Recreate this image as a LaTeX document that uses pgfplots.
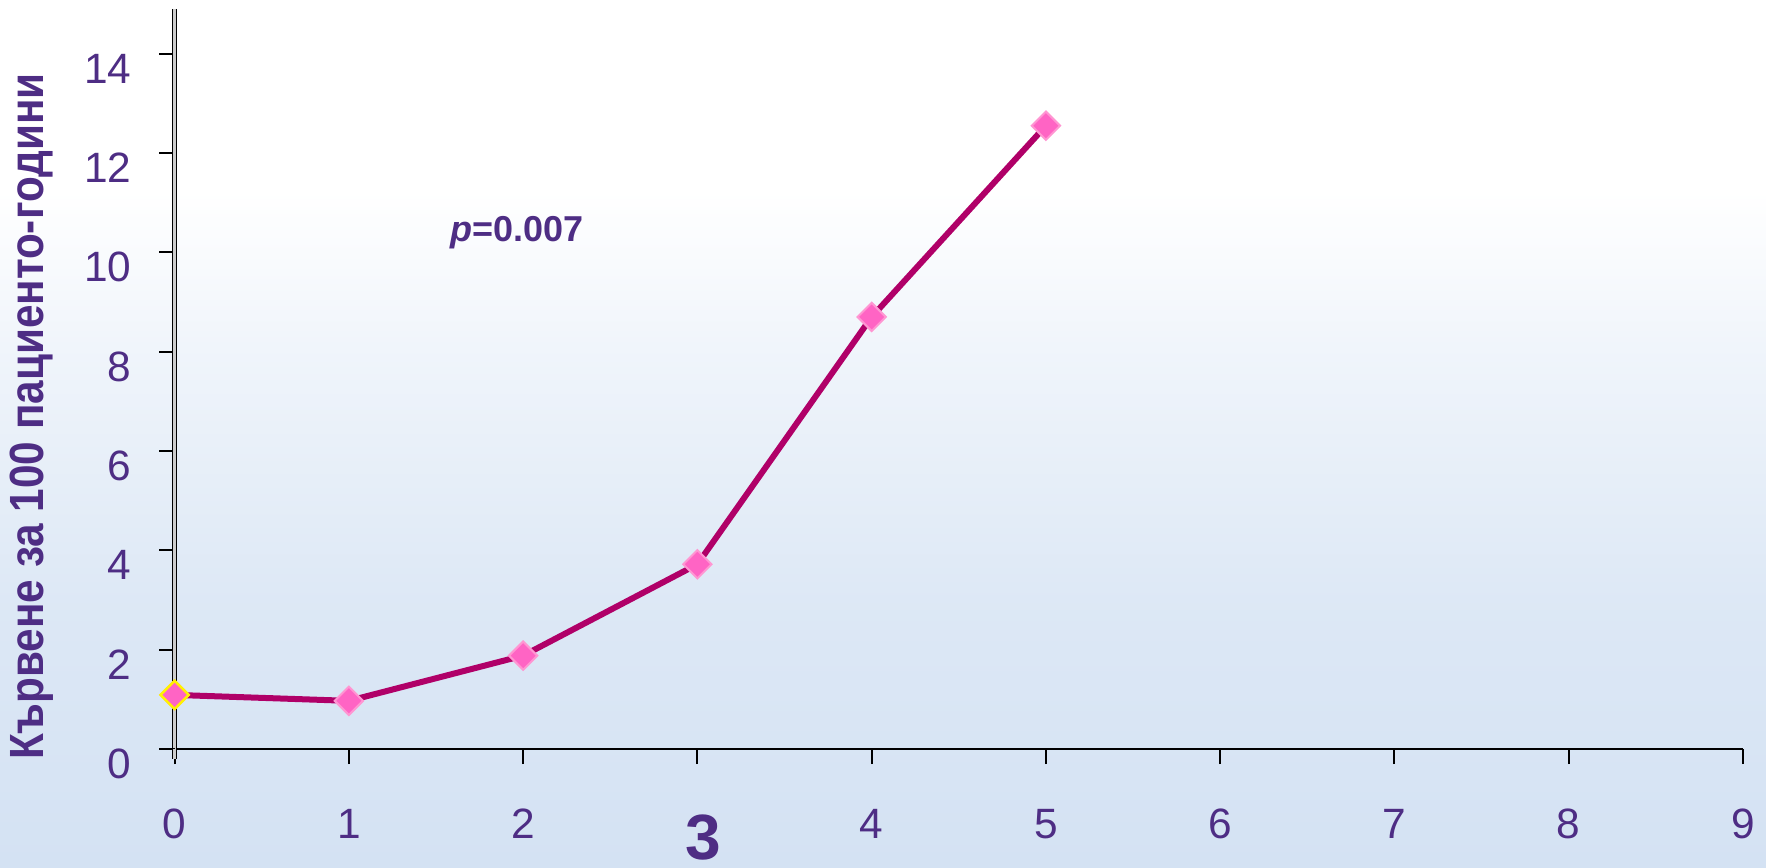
\documentclass[border=0pt]{standalone}
\usepackage{fontspec}
\setmainfont{Liberation Sans}
\newfontfamily\ylabfont[FakeStretch=0.88]{Liberation Sans Bold}
\usepackage{pgfplots}
\pgfplotsset{compat=1.18}
\definecolor{txt}{RGB}{78,45,132}
\definecolor{linec}{RGB}{176,0,104}
\definecolor{markc}{RGB}{255,100,196}
\definecolor{markb}{RGB}{255,150,210}
\definecolor{bgb}{RGB}{212,226,243}
\pgfdeclareverticalshading{bgshade}{100bp}{color(0bp)=(bgb); color(25bp)=(bgb); color(40bp)=(bgb!80!white); color(55bp)=(bgb!35!white); color(64bp)=(white); color(100bp)=(white)}
\begin{document}
\begin{tikzpicture}[x=1bp,y=1bp]
\shade[shading=bgshade] (0,0) rectangle (441.5,216.75);
\useasboundingbox (0,0) rectangle (441.5,216.75);
\begin{axis}[
  at={(43.65bp,29.5bp)}, anchor=south west,
  scale only axis, width=392.1bp, height=185bp,
  xmin=0, xmax=9, ymin=0, ymax=14.9,
  axis x line=bottom, axis y line=left,
  x axis line style={-, black, line width=0.6bp},
  y axis line style={-, draw=black, double=gray!40, double distance=0.6bp, line width=0.35bp},
  xtick={0,...,9}, ytick={0,2,...,14},
  xticklabels={0,1,2,{},4,5,6,7,8,9},
  tick align=outside, major tick length=3.8bp,
  tick style={black, line width=0.5bp},
  /pgf/number format/assume math mode=true,
  tick label style={font=\fontsize{10.6bp}{12bp}\selectfont, text=txt},
  yticklabel style={yshift=-3.75bp, xshift=-3.5bp},
  xticklabel style={yshift=-7.75bp},
  clip=false,
]
\draw[black, line width=0.6bp] (axis cs:0,0) -- ++(-4bp,0);
\draw[draw=black, double=gray!40, double distance=0.6bp, line width=0.35bp] (axis cs:0,0) -- ++(0,-2.5bp);
\addplot[color=linec, line width=1.5bp, mark=square*, mark size=2.5bp,
  mark options={rotate=45, fill=markc, draw=markb, line width=0.5bp}]
  coordinates {(0,1.09) (1,0.97) (2,1.88) (3,3.72) (4,8.70) (5,12.55)};
\addplot[only marks, mark=square*, mark size=2.5bp,
  mark options={rotate=45, fill=markc, draw=yellow, line width=0.6bp}]
  coordinates {(0,1.09)};
\end{axis}
\node[rotate=90, text=txt, font=\ylabfont\fontsize{12bp}{14bp}\selectfont, inner sep=0pt] at (8,112.6) {Кървене за 100 пациенто-години};
\node[anchor=west, text=txt, font=\bfseries\fontsize{9bp}{11bp}\selectfont, inner sep=0pt] at (112.5,158.5) {\textit{p}=0.007};
\node[text=txt, font=\bfseries\fontsize{16bp}{18bp}\selectfont, inner sep=0pt] at (175.75,7.3) {3};
\end{tikzpicture}
\end{document}
